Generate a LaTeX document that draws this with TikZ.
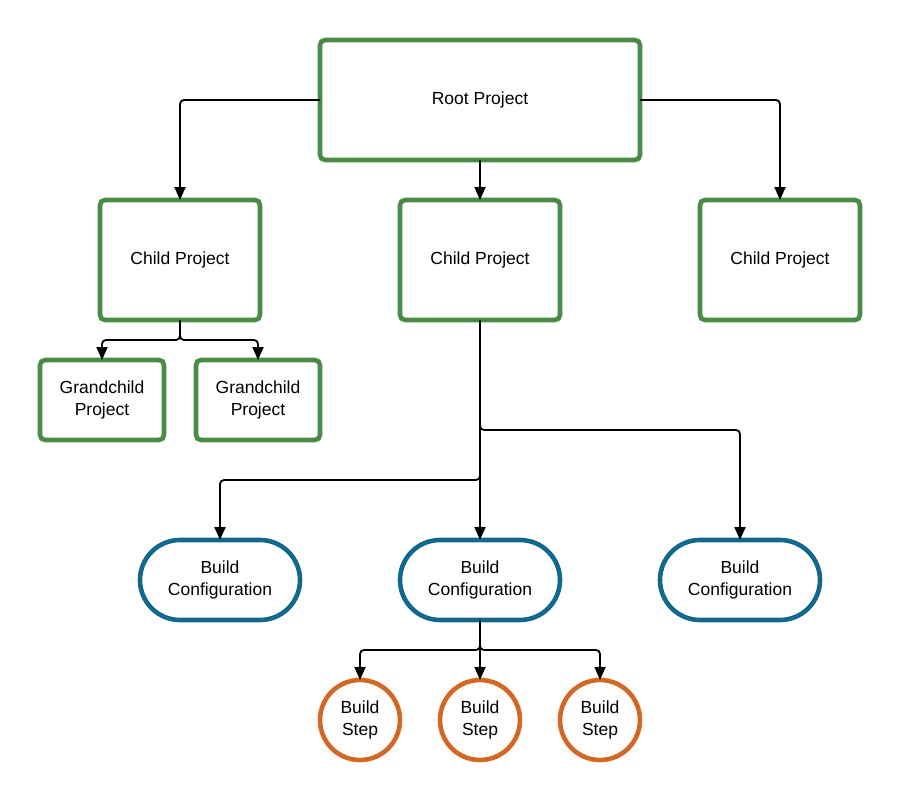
\documentclass[tikz,border=0pt]{standalone}
\usepackage{fontspec}
\setmainfont{Liberation Sans}
\usetikzlibrary{arrows.meta,shapes.misc}
\definecolor{pgreen}{RGB}{74,139,71}
\definecolor{cblue}{RGB}{17,104,138}
\definecolor{sorange}{RGB}{210,104,36}
\begin{document}
\begin{tikzpicture}[x=1pt,y=-1pt,
  every node/.style={font=\fontsize{17.5}{22}\selectfont, align=center, inner sep=0pt, outer sep=0pt},
  proj/.style={draw=pgreen, line width=4.6pt, rounded corners=5pt, fill=white},
  conf/.style={draw=cblue, line width=4.6pt, rounded rectangle, fill=white, minimum width=160pt, minimum height=80pt},
  bstep/.style={draw=sorange, line width=4.6pt, circle, fill=white, minimum size=80pt},
  conn/.style={draw=black, line width=1.8pt, rounded corners=4pt, -{Triangle[length=13pt,width=11pt]}},
  plain/.style={draw=black, line width=1.8pt, rounded corners=4pt}]
\useasboundingbox (0,0) rectangle (900,800);
\node[proj, minimum width=320pt, minimum height=120pt] (root) at (480,100) {Root Project};
\node[proj, minimum width=160pt, minimum height=120pt] (c1) at (180,260) {Child Project};
\node[proj, minimum width=160pt, minimum height=120pt] (c2) at (480,260) {Child Project};
\node[proj, minimum width=160pt, minimum height=120pt] (c3) at (780,260) {Child Project};
\node[proj, minimum width=124pt, minimum height=80pt] (g1) at (102,400) {Grandchild\\Project};
\node[proj, minimum width=124pt, minimum height=80pt] (g2) at (258,400) {Grandchild\\Project};
\node[conf] (b1) at (220,580) {Build\\Configuration};
\node[conf] (b2) at (480,580) {Build\\Configuration};
\node[conf] (b3) at (740,580) {Build\\Configuration};
\node[bstep] (s1) at (360,720) {Build\\Step};
\node[bstep] (s2) at (480,720) {Build\\Step};
\node[bstep] (s3) at (600,720) {Build\\Step};
\coordinate (j1) at (180,340);
\coordinate (j2) at (480,650);
% root to children
\draw[conn] (root.west) -| (c1.north);
\draw[conn] (root.south) -- (c2.north);
\draw[conn] (root.east) -| (c3.north);
% child to grandchildren
\draw[conn] (c1.south) |- (j1) -| (g1.north);
\draw[conn] (c1.south) |- (j1) -| (g2.north);
% middle child to configs
\draw[conn] (c2.south) -- (b2.north);
\draw[conn] (c2.south) |- (480,430) -| (b3.north);
\draw[conn] (c2.south) |- (480,480) -| (b1.north);
% config to steps
\draw[conn] (b2.south) |- (j2) -| (s1.north);
\draw[conn] (b2.south) -- (s2.north);
\draw[conn] (b2.south) |- (j2) -| (s3.north);
\end{tikzpicture}
\end{document}
